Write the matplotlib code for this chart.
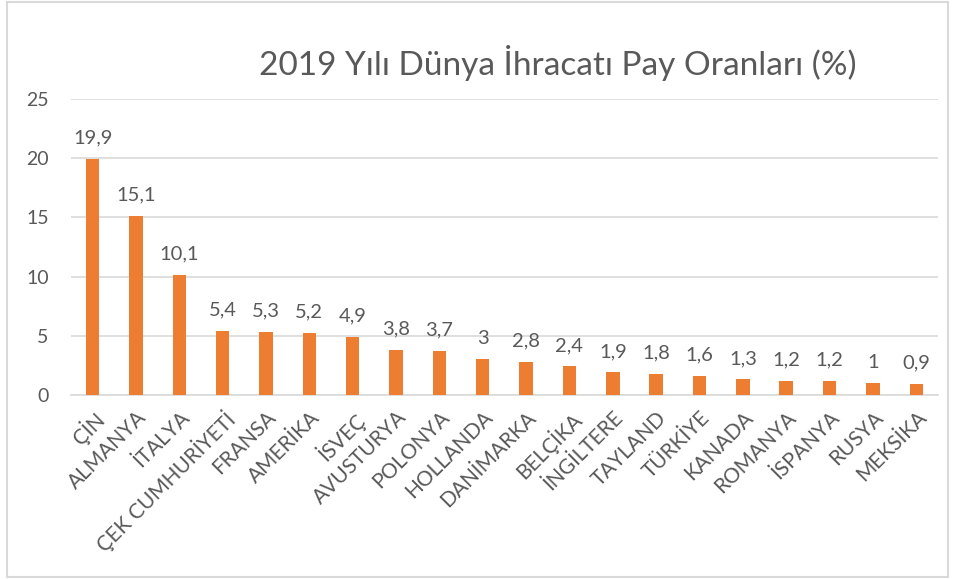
import matplotlib.pyplot as plt
from matplotlib.patches import Rectangle

countries = ['ÇİN', 'ALMANYA', 'İTALYA', 'ÇEK CUMHURİYETİ', 'FRANSA', 'AMERİKA', 'İSVEÇ',
             'AVUSTURYA', 'POLONYA', 'HOLLANDA', 'DANİMARKA', 'BELÇİKA', 'İNGİLTERE',
             'TAYLAND', 'TÜRKİYE', 'KANADA', 'ROMANYA', 'İSPANYA', 'RUSYA', 'MEKSİKA']
shares = [19.9, 15.1, 10.1, 5.4, 5.3, 5.2, 4.9, 3.8, 3.7, 3, 2.8, 2.4, 1.9, 1.8, 1.6, 1.3, 1.2, 1.2, 1, 0.9]
yticks = [0, 5, 10, 15, 20, 25]

plt.rcParams['font.family'] = ['Lato', 'DejaVu Sans']
txt = '#595959'
grid = '#D9D9D9'

fig = plt.figure(figsize=(9.59, 5.79), dpi=100)
fig.patches.append(Rectangle((0.007, 0.004), 0.982, 0.992, transform=fig.transFigure,
                             fill=False, edgecolor=grid, linewidth=1.5))
ax = fig.add_axes([0.074, 0.318, 0.904, 0.511])

x = range(len(countries))
ax.bar(x, shares, width=0.31, color='#ED7D31', zorder=3)
for i, v in enumerate(shares):
    lab = ('%g' % v).replace('.', ',')
    ax.annotate(lab, (i, v), xytext=(0, 9), textcoords='offset points',
                ha='center', va='bottom', fontsize=14.5, color=txt)

ax.set_xlim(-0.5, len(countries) - 0.5)
ax.set_ylim(0, 25)
ax.set_yticks(yticks)
ax.grid(axis='y', color=grid, linewidth=1.2, zorder=0)
for s in ['top', 'right', 'left']:
    ax.spines[s].set_visible(False)
ax.spines['bottom'].set_color(grid)
ax.spines['bottom'].set_linewidth(1.2)
ax.tick_params(axis='both', length=0, colors=txt, labelsize=14)
ax.tick_params(axis='y', pad=16)
ax.set_xticks(list(x))
ax.set_xticklabels(countries, rotation=45, ha='right', rotation_mode='anchor', fontsize=15)
ax.tick_params(axis='x', pad=9)

fig.text(0.582, 0.891, '2019 Yılı Dünya İhracatı Pay Oranları (%)', ha='center', va='center',
         fontsize=24, color=txt)

fig.savefig('out.png', dpi=100)
